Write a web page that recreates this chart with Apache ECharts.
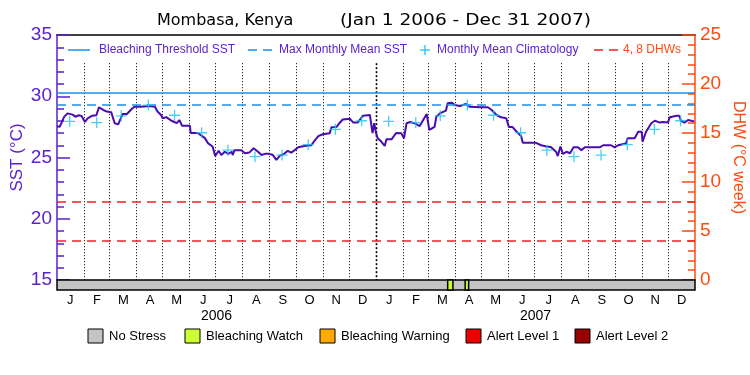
<!DOCTYPE html>
<html><head><meta charset="utf-8">
<script src="https://cdn.jsdelivr.net/npm/echarts@6/dist/echarts.min.js"></script>
<style>html,body{margin:0;padding:0;background:#fff}#c{width:750px;height:375px}</style>
</head><body><div id="c"></div>
<script>
// ---------------- data ----------------
const sstDates = ['2006-01-01','2006-01-04','2006-01-06','2006-01-09','2006-01-13','2006-01-19','2006-01-22','2006-01-26','2006-01-29','2006-02-02','2006-02-05','2006-02-10','2006-02-15','2006-02-18','2006-02-23','2006-02-27','2006-03-04','2006-03-08','2006-03-12','2006-03-15','2006-03-17','2006-03-22','2006-03-28','2006-03-31','2006-04-07','2006-04-17','2006-04-23','2006-04-26','2006-04-30','2006-05-02','2006-05-06','2006-05-12','2006-05-18','2006-05-21','2006-05-24','2006-06-02','2006-06-03','2006-06-11','2006-06-13','2006-06-19','2006-06-23','2006-06-28','2006-07-01','2006-07-05','2006-07-08','2006-07-12','2006-07-16','2006-07-20','2006-07-21','2006-07-23','2006-07-31','2006-08-04','2006-08-09','2006-08-14','2006-08-19','2006-08-23','2006-08-27','2006-09-01','2006-09-05','2006-09-09','2006-09-13','2006-09-18','2006-09-22','2006-09-26','2006-09-30','2006-10-04','2006-10-11','2006-10-19','2006-10-23','2006-10-27','2006-11-01','2006-11-09','2006-11-11','2006-11-17','2006-11-20','2006-11-24','2006-12-02','2006-12-06','2006-12-11','2006-12-17','2006-12-25','2006-12-27','2006-12-28','2006-12-30','2007-01-01','2007-01-03','2007-01-07','2007-01-11','2007-01-13','2007-01-19','2007-01-24','2007-01-30','2007-02-02','2007-02-05','2007-02-09','2007-02-14','2007-02-20','2007-02-24','2007-02-28','2007-03-01','2007-03-03','2007-03-09','2007-03-11','2007-03-15','2007-03-22','2007-03-24','2007-03-29','2007-04-01','2007-04-07','2007-04-14','2007-04-18','2007-04-30','2007-05-09','2007-05-13','2007-05-19','2007-05-24','2007-05-30','2007-06-02','2007-06-06','2007-06-11','2007-06-16','2007-06-18','2007-07-03','2007-07-09','2007-07-15','2007-07-20','2007-07-26','2007-07-28','2007-07-31','2007-08-03','2007-08-07','2007-08-11','2007-08-15','2007-08-20','2007-08-24','2007-08-28','2007-08-30','2007-09-14','2007-09-18','2007-09-27','2007-10-01','2007-10-05','2007-10-14','2007-10-16','2007-10-24','2007-10-28','2007-11-01','2007-11-02','2007-11-06','2007-11-12','2007-11-16','2007-11-22','2007-11-25','2007-12-01','2007-12-03','2007-12-11','2007-12-14','2007-12-16','2007-12-20','2007-12-24','2007-12-31'];
const sstValues = [27.55,27.5,27.8,28.3,28.6,28.5,28.33,28.45,28.4,27.9,28.2,28.4,28.45,29.1,28.88,28.75,28.7,27.8,27.7,28.2,28.55,28.55,29.0,29.15,29.15,29.2,29.15,28.75,28.47,28.2,28.3,28.0,27.8,28.06,27.6,27.6,27.0,27.0,26.9,26.6,26.15,25.9,25.12,25.55,25.2,25.47,25.3,25.47,25.2,25.6,25.6,25.35,25.4,25.75,25.47,25.2,25.3,25.3,25.2,24.8,25.15,25.3,25.55,25.4,25.6,25.83,25.94,26.0,26.4,26.75,26.9,26.97,27.46,27.5,27.8,28.1,28.17,27.85,27.85,28.4,28.47,27.5,27.0,27.8,27.0,26.57,26.3,25.94,26.5,26.5,27.0,26.97,26.57,27.8,27.9,27.8,27.57,28.06,28.55,28.5,27.25,27.5,28.33,28.6,28.82,29.42,29.47,29.28,29.2,29.37,29.15,29.1,29.1,28.9,28.47,28.28,28.2,27.5,27.5,27.1,26.76,26.2,26.2,26.0,25.9,25.85,25.47,25.12,25.9,25.3,25.47,25.35,25.83,25.83,25.6,25.83,25.94,25.83,26.0,26.0,25.83,26.0,26.15,26.57,26.57,27.1,27.1,26.3,27.1,27.8,28.0,27.85,27.9,27.85,28.28,28.4,28.4,28.0,27.85,28.06,27.95];
const climValues = [27.95,27.85,28.4,29.28,28.45,27.02,25.6,25.07,25.2,26.05,27.3,28.0];
const years = [2006, 2007];
const maxMonthlyMean = 29.27;
const bleachingThreshold = 30.27;
const dhwLevels = [4, 8];
const monthLetters = ['J','F','M','A','M','J','J','A','S','O','N','D'];
const yearLabels = ['2006','2007'];
const stressStart = ['2006-01-01','2007-03-24','2007-04-13'];
const stressEnd   = ['2008-01-01','2007-03-30','2007-04-17'];
const stressLevel = [0, 1, 1];
const stressNames = ['No Stress','Bleaching Watch','Bleaching Warning','Alert Level 1','Alert Level 2'];
const stressColors = ['#c4c4c4','#ccff33','#ffaa00','#ee0000','#990000'];
const titleParts = ['Mombasa, Kenya', '(Jan 1 2006 - Dec 31 2007)'];

// ---------------- styles ----------------
const PURPLE = '#5a22d0', LINE = '#4a0cb0', ORANGE = '#ff4a10', BLUE = '#1e8ee8', CYAN = '#18c4f4', RED = '#f02020';
const FONT = 'Liberation Sans';
const T0 = '2006-01-01', T1 = '2008-01-01';

const sstData = sstDates.map((d, i) => [d, sstValues[i]]);
const climData = [];
years.forEach(y => climValues.forEach((v, m) => climData.push([new Date(y, m, 15, 12).getTime(), v])));
const boundaries = [];
for (let k = 1; k < 24; k++) boundaries.push([new Date(2006, k, 1).getTime(), k % 12 === 0 ? 1 : 0]);
const monthCats = years.flatMap(() => monthLetters);
const stressData = stressStart.map((s, i) => [s, stressEnd[i], stressLevel[i]]);

const chart = echarts.init(document.getElementById('c'), null, {renderer: 'canvas'});

function renderBoundary(params, api) {
  const t = api.value(0);
  const a = api.coord([t, 32.7]);
  const b = api.coord([t, 15]);
  const yr = api.value(1) === 1;
  const x = Math.round(a[0]) + 0.5;
  return {type: 'line', shape: {x1: x, y1: a[1], x2: x, y2: b[1]},
    style: {stroke: '#000', lineWidth: yr ? 1.6 : 1, lineDash: yr ? [2, 2] : [1, 2]}};
}
function renderStress(params, api) {
  const s = api.coord([api.value(0), 1]);
  const e = api.coord([api.value(1), 0]);
  return {type: 'rect', shape: {x: s[0], y: s[1], width: e[0] - s[0], height: e[1] - s[1]},
    style: {fill: stressColors[api.value(2)], stroke: '#000', lineWidth: 1.5}};
}

const plusPath = 'path://M4.4,0h1.2v10h-1.2z M0,4.4h10v1.2h-10z';

// legend + title graphics
const g = [];
g.push({type: 'text', x: 157, y: 21, style: {text: titleParts[0], fill: '#000', font: '16px DejaVu Sans', verticalAlign: 'middle'}});
g.push({type: 'text', x: 340, y: 21, scaleX: 1.16, style: {text: titleParts[1], fill: '#000', font: '16px DejaVu Sans', verticalAlign: 'middle'}});
const LY = 50;
g.push({type: 'line', shape: {x1: 68, y1: LY, x2: 90, y2: LY}, style: {stroke: BLUE, lineWidth: 1.5}});
g.push({type: 'text', x: 99, y: LY, style: {text: 'Bleaching Threshold SST', fill: PURPLE, font: '12px ' + FONT, verticalAlign: 'middle'}});
g.push({type: 'line', shape: {x1: 248, y1: LY, x2: 272, y2: LY}, style: {stroke: BLUE, lineWidth: 1.5, lineDash: [9, 6]}});
g.push({type: 'text', x: 279, y: LY, style: {text: 'Max Monthly Mean SST', fill: PURPLE, font: '12px ' + FONT, verticalAlign: 'middle'}});
g.push({type: 'line', shape: {x1: 420, y1: LY, x2: 430, y2: LY}, style: {stroke: CYAN, lineWidth: 1.3}});
g.push({type: 'line', shape: {x1: 425, y1: LY - 5, x2: 425, y2: LY + 5}, style: {stroke: CYAN, lineWidth: 1.3}});
g.push({type: 'text', x: 437, y: LY, style: {text: 'Monthly Mean Climatology', fill: PURPLE, font: '12px ' + FONT, verticalAlign: 'middle'}});
g.push({type: 'line', shape: {x1: 594, y1: LY, x2: 618, y2: LY}, style: {stroke: RED, lineWidth: 1.5, lineDash: [9, 6]}});
g.push({type: 'text', x: 623, y: LY, style: {text: '4, 8 DHWs', fill: ORANGE, font: '12px ' + FONT, verticalAlign: 'middle'}});
const boxX = [88, 185, 320, 466, 575];
stressNames.forEach((n, i) => {
  g.push({type: 'rect', shape: {x: boxX[i], y: 329, width: 15, height: 14}, style: {fill: stressColors[i], stroke: '#000', lineWidth: 1}});
  g.push({type: 'text', x: boxX[i] + 21, y: 336, style: {text: n, fill: '#000', font: '13px ' + FONT, verticalAlign: 'middle'}});
});

const option = {
  animation: false,
  backgroundColor: '#fff',
  textStyle: {fontFamily: FONT},
  grid: [
    {left: 57, right: 55, top: 35, height: 245, outerBoundsMode: 'none', containLabel: false},
    {left: 57, right: 55, top: 280, height: 10, outerBoundsMode: 'none', containLabel: false}
  ],
  xAxis: [
    {type: 'time', gridIndex: 0, min: T0, max: T1, show: false},
    {type: 'time', gridIndex: 0, min: T0, max: T1, position: 'top',
      axisLine: {show: true, onZero: false, lineStyle: {color: '#000', width: 1.5}},
      axisTick: {show: false}, axisLabel: {show: false}, splitLine: {show: false}},
    {type: 'time', gridIndex: 1, min: T0, max: T1, show: false},
    {type: 'category', gridIndex: 1, data: monthCats, position: 'bottom', boundaryGap: true,
      axisLine: {show: false}, axisTick: {show: false},
      axisLabel: {color: '#000', fontSize: 13, margin: 4, interval: 0, fontFamily: FONT}},
    {type: 'category', gridIndex: 1, data: yearLabels, position: 'bottom', offset: 15, boundaryGap: true,
      axisLine: {show: false}, axisTick: {show: false},
      axisLabel: {color: '#000', fontSize: 14, margin: 4, interval: 0, fontFamily: FONT}}
  ],
  yAxis: [
    {type: 'value', gridIndex: 0, min: 15, max: 35, interval: 5, position: 'left',
      name: 'SST (°C)', nameLocation: 'middle', nameGap: 31, nameRotate: 90, nameMoveOverlap: false,
      nameTextStyle: {color: PURPLE, fontSize: 17, fontFamily: FONT},
      axisLine: {show: true, onZero: false, lineStyle: {color: PURPLE, width: 1.5}},
      axisTick: {show: true, inside: true, length: 13, lineStyle: {color: PURPLE, width: 1.5}},
      minorTick: {show: true, splitNumber: 5, length: 7, lineStyle: {color: PURPLE, width: 1.5}},
      axisLabel: {color: PURPLE, fontSize: 19, margin: 5, fontFamily: FONT},
      splitLine: {show: false}},
    {type: 'value', gridIndex: 0, min: 0, max: 25, interval: 5, position: 'right',
      name: 'DHW (°C week)', nameLocation: 'middle', nameGap: 35, nameRotate: -90, nameMoveOverlap: false,
      nameTextStyle: {color: ORANGE, fontSize: 16, fontFamily: FONT},
      axisLine: {show: true, onZero: false, lineStyle: {color: ORANGE, width: 1.5}},
      axisTick: {show: true, inside: true, length: 13, lineStyle: {color: ORANGE, width: 1.5}},
      minorTick: {show: true, splitNumber: 5, length: 7, lineStyle: {color: ORANGE, width: 1.5}},
      axisLabel: {color: ORANGE, fontSize: 19, margin: 5, fontFamily: FONT},
      splitLine: {show: false}},
    {type: 'value', gridIndex: 1, min: 0, max: 1, show: false}
  ],
  series: [
    {name: 'boundaries', type: 'custom', xAxisIndex: 0, yAxisIndex: 0, z: 1, silent: true,
      renderItem: renderBoundary, data: boundaries, encode: {x: 0}},
    {name: 'Bleaching Threshold SST', type: 'line', xAxisIndex: 0, yAxisIndex: 0, data: [], z: 2,
      markLine: {silent: true, symbol: ['none', 'none'], label: {show: false},
        lineStyle: {color: BLUE, width: 1.5, type: 'solid'}, data: [{yAxis: bleachingThreshold}]}},
    {name: 'Max Monthly Mean SST', type: 'line', xAxisIndex: 0, yAxisIndex: 0, data: [], z: 2,
      markLine: {silent: true, symbol: ['none', 'none'], label: {show: false},
        lineStyle: {color: BLUE, width: 1.5, type: [9, 6]}, data: [{yAxis: maxMonthlyMean}]}},
    {name: '4, 8 DHWs', type: 'line', xAxisIndex: 0, yAxisIndex: 1, data: [], z: 2,
      markLine: {silent: true, symbol: ['none', 'none'], label: {show: false},
        lineStyle: {color: RED, width: 1.5, type: [9, 6]}, data: dhwLevels.map(v => ({yAxis: v}))}},
    {name: 'SST', type: 'line', xAxisIndex: 0, yAxisIndex: 0, data: sstData, showSymbol: false, z: 4,
      lineStyle: {color: LINE, width: 2}},
    {name: 'Monthly Mean Climatology', type: 'scatter', xAxisIndex: 0, yAxisIndex: 0, data: climData, z: 5,
      symbol: plusPath, symbolSize: 11, itemStyle: {color: CYAN}},
    {name: 'stress', type: 'custom', xAxisIndex: 2, yAxisIndex: 2, renderItem: renderStress,
      dimensions: [{name: 'start', type: 'time'}, {name: 'end', type: 'time'}, {name: 'level', type: 'number'}],
      encode: {x: [0, 1]}, data: stressData, silent: true}
  ],
  graphic: g
};
chart.setOption(option);
</script>
</body></html>
